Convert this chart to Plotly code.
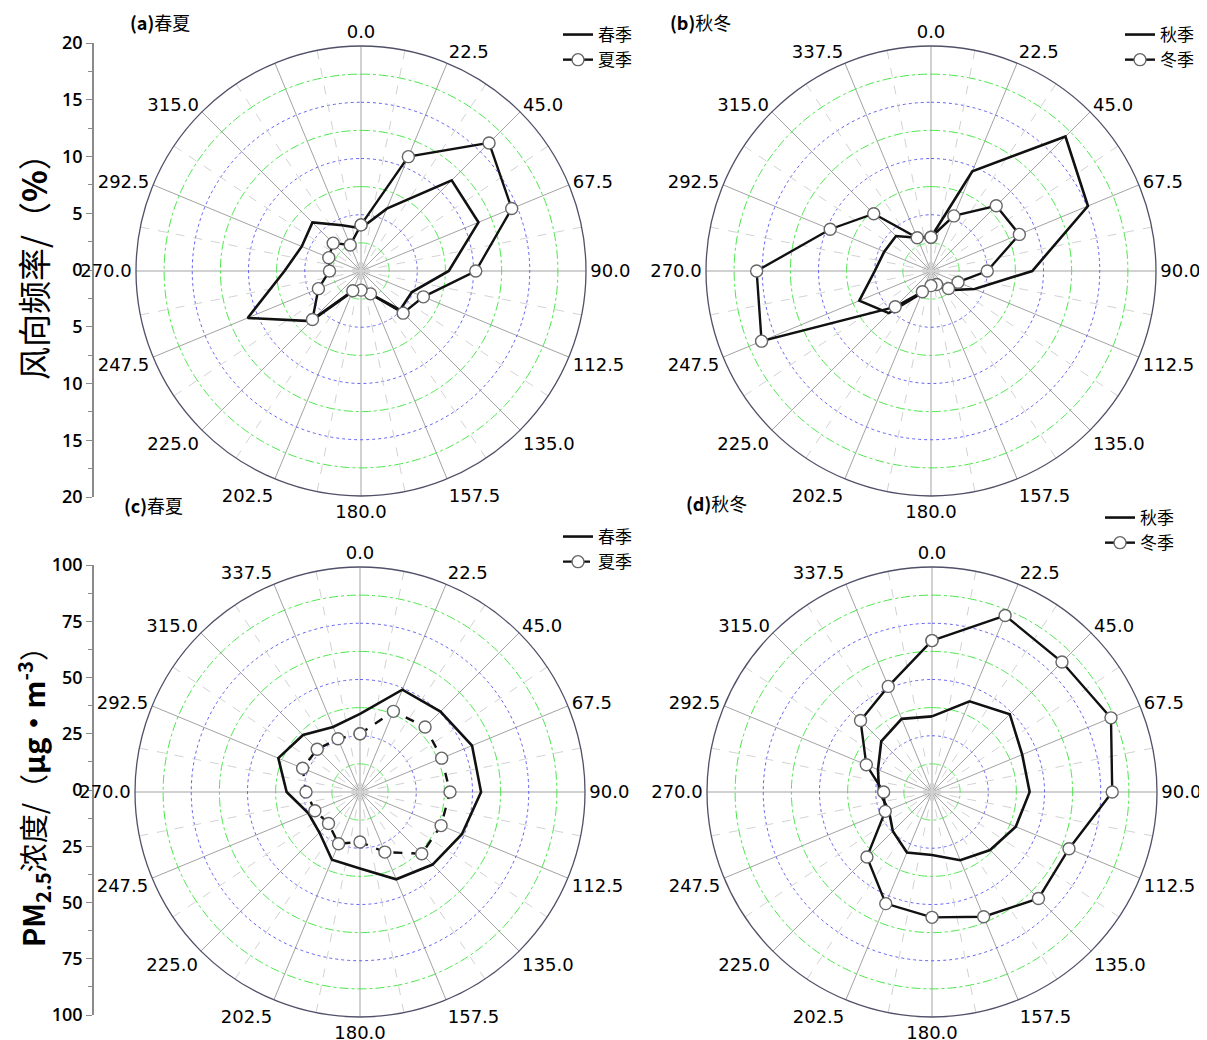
import numpy as np
import plotly.graph_objects as go

# ---------------- data ----------------
directions = [0.0, 22.5, 45.0, 67.5, 90.0, 112.5, 135.0, 157.5,
              180.0, 202.5, 225.0, 247.5, 270.0, 292.5, 315.0, 337.5]
direction_labels = ["0.0", "22.5", "45.0", "67.5", "90.0", "112.5", "135.0", "157.5",
                    "180.0", "202.5", "225.0", "247.5", "270.0", "292.5", "315.0", "337.5"]

# wind direction frequency (%)
wind_spring = [3.8, 6.0, 11.4, 11.3, 7.8, 4.9, 4.9, 2.2, 1.7, 2.0, 6.3, 10.9, 6.8, 5.7, 6.1, 4.4]
wind_summer = [4.1, 11.0, 16.1, 14.5, 10.2, 6.0, 5.3, 2.2, 1.7, 1.9, 6.1, 4.1, 2.8, 3.1, 3.5, 2.5]
wind_autumn = [3.0, 9.6, 16.9, 15.1, 9.0, 4.2, 2.4, 1.5, 1.3, 2.1, 5.3, 6.9, 5.0, 4.5, 4.4, 3.2]
wind_winter = [3.0, 5.3, 8.2, 8.5, 5.0, 2.6, 2.2, 1.3, 1.3, 2.0, 4.5, 16.3, 15.5, 9.7, 7.2, 3.2]

# PM2.5 concentration (ug/m3)
pm_spring = [34.7, 49.2, 50.6, 53.9, 53.8, 49.0, 45.6, 42.0, 34.0, 32.6, 25.5, 24.8, 32.6, 39.3, 35.8, 31.3]
pm_summer = [25.9, 38.8, 40.9, 39.3, 40.0, 39.0, 38.8, 28.9, 22.2, 24.9, 19.8, 21.7, 24.0, 27.6, 26.9, 25.6]
pm_autumn = [33.6, 43.6, 48.9, 43.4, 43.4, 40.3, 36.5, 32.8, 28.0, 29.1, 24.6, 20.8, 23.5, 26.0, 31.9, 35.2]
pm_winter = [67.3, 84.9, 81.7, 86.1, 80.1, 65.9, 66.9, 60.0, 55.7, 53.7, 40.9, 22.5, 21.5, 31.6, 44.9, 50.8]

wind_ticks = [-20, -15, -10, -5, 0, 5, 10, 15, 20]
pm_ticks = [-100, -75, -50, -25, 0, 25, 50, 75, 100]

# ---------------- layout helpers ----------------
OFF = 8                      # page body margin of the html page
W, H = 1207 - OFF, 1040 - OFF
R = 225


def px(x):
    return (x - OFF) / W


def py(y):
    return 1 - (y - OFF) / H


panels = [
    dict(sub="polar",  cx=361, cy=271, rmax=20,  major=[5, 10, 15],  minor=[2.5, 7.5, 12.5, 17.5],
         s1=("春季", wind_spring), s2=("夏季", wind_summer), legend="legend",  dash2="solid",
         hide=[337.5], title="<b>(a)</b>春夏", tx=128, ty=22, lx=558, ly=17),
    dict(sub="polar2", cx=931, cy=271, rmax=20,  major=[5, 10, 15],  minor=[2.5, 7.5, 12.5, 17.5],
         s1=("秋季", wind_autumn), s2=("冬季", wind_winter), legend="legend2", dash2="solid",
         hide=[], title="<b>(b)</b>秋冬", tx=668, ty=22, lx=1120, ly=17),
    dict(sub="polar3", cx=360, cy=792, rmax=100, major=[25, 50, 75], minor=[12.5, 37.5, 62.5, 87.5],
         s1=("春季", pm_spring), s2=("夏季", pm_summer), legend="legend3", dash2="dash",
         hide=[], title="<b>(c)</b>春夏", tx=122, ty=505, lx=558, ly=519),
    dict(sub="polar4", cx=932, cy=792, rmax=100, major=[25, 50, 75], minor=[12.5, 37.5, 62.5, 87.5],
         s1=("秋季", pm_autumn), s2=("冬季", pm_winter), legend="legend4", dash2="solid",
         hide=[], title="<b>(d)</b>秋冬", tx=684, ty=503, lx=1100, ly=500),
]

theta_circle = np.linspace(0, 360, 361)
fig = go.Figure()


def circles(levels):
    rr, tt = [], []
    for lv in levels:
        rr += [lv] * len(theta_circle) + [None]
        tt += list(theta_circle) + [None]
    return rr, tt


def closed(vals):
    return list(vals) + [vals[0]], list(directions) + [directions[0]]


layout_polars = {}
annotations = []
legends = {}

for p in panels:
    sub = p["sub"]
    # green dash-dot circles
    rr, tt = circles(p["minor"])
    fig.add_trace(go.Scatterpolar(r=rr, theta=tt, mode="lines", subplot=sub,
                                  line=dict(color="#4ae64a", width=1, dash="dashdot"),
                                  showlegend=False, hoverinfo="skip"))
    # blue dotted circles
    rr, tt = circles(p["major"])
    fig.add_trace(go.Scatterpolar(r=rr, theta=tt, mode="lines", subplot=sub,
                                  line=dict(color="#6464f0", width=1, dash="dot"),
                                  showlegend=False, hoverinfo="skip"))
    # minor dashed spokes
    rr, tt = [], []
    for d in directions:
        rr += [0, p["rmax"], None]
        tt += [d + 11.25, d + 11.25, None]
    fig.add_trace(go.Scatterpolar(r=rr, theta=tt, mode="lines", subplot=sub,
                                  line=dict(color="#d2d2d2", width=1, dash="dash"),
                                  showlegend=False, hoverinfo="skip"))
    # series 1 (line only)
    r1, t1 = closed(p["s1"][1])
    fig.add_trace(go.Scatterpolar(r=r1, theta=t1, mode="lines", subplot=sub,
                                  name=p["s1"][0], legend=p["legend"],
                                  line=dict(color="#111111", width=2.6)))
    # series 2 (line + open markers)
    r2, t2 = closed(p["s2"][1])
    fig.add_trace(go.Scatterpolar(r=r2, theta=t2, mode="lines+markers", subplot=sub,
                                  name=p["s2"][0], legend=p["legend"],
                                  line=dict(color="#111111", width=2.4, dash=p["dash2"]),
                                  marker=dict(symbol="circle", size=12, color="white",
                                              line=dict(color="#666666", width=1.4))))

    ticktext = [" " if d in p["hide"] else lab for d, lab in zip(directions, direction_labels)]
    layout_polars[sub] = dict(
        domain=dict(x=[px(p["cx"] - R), px(p["cx"] + R)],
                    y=[py(p["cy"] + R), py(p["cy"] - R)]),
        bgcolor="white",
        radialaxis=dict(range=[0, p["rmax"]], showgrid=False, showticklabels=False,
                        showline=False, ticks=""),
        angularaxis=dict(rotation=90, direction="clockwise", tickmode="array",
                         tickvals=directions, ticktext=ticktext,
                         showgrid=True, gridcolor="#a3a3a3", gridwidth=1,
                         showline=True, linecolor="#505068", linewidth=1.3,
                         ticks="", 
                         tickfont=dict(family="DejaVu Sans", size=18, color="black")),
    )
    legends[p["legend"]] = dict(x=px(p["lx"]), y=py(p["ly"]), xanchor="left", yanchor="top",
                                bgcolor="rgba(0,0,0,0)", tracegroupgap=0, itemwidth=30,
                                font=dict(family="Noto Sans CJK SC", size=17, color="black"))
    annotations.append(dict(text=p["title"], x=px(p["tx"]), y=py(p["ty"]),
                            xref="paper", yref="paper", xanchor="left", yanchor="middle",
                            showarrow=False,
                            font=dict(family="Noto Sans CJK SC", size=18, color="black")))

# left scale axes (cartesian)
fig.add_trace(go.Scatter(x=[None], y=[None], xaxis="x", yaxis="y", showlegend=False, hoverinfo="skip"))
fig.add_trace(go.Scatter(x=[None], y=[None], xaxis="x2", yaxis="y2", showlegend=False, hoverinfo="skip"))

axis_x = 94
axis_common = dict(showline=True, linecolor="#8a8a8a", linewidth=1.5, ticks="outside",
                   ticklen=6, tickcolor="#8a8a8a", tickwidth=1.2, showgrid=False, zeroline=False,
                   tickfont=dict(family="Open Sans", size=18, color="black", weight=600),
                   fixedrange=True, automargin=False)

fig.update_layout(
    xaxis=dict(domain=[px(axis_x), px(axis_x) + 0.005], visible=False, range=[0, 1], anchor="y"),
    yaxis=dict(domain=[py(497), py(43)], range=[-20, 20], anchor="x",
               tickmode="array", tickvals=wind_ticks, ticktext=[str(abs(v)) for v in wind_ticks],
               minor=dict(tick0=0, dtick=2.5, ticks="outside", ticklen=4, tickcolor="#8a8a8a"),
               **axis_common),
    xaxis2=dict(domain=[px(axis_x), px(axis_x) + 0.005], visible=False, range=[0, 1], anchor="y2"),
    yaxis2=dict(domain=[py(1015), py(565)], range=[-100, 100], anchor="x2",
                tickmode="array", tickvals=pm_ticks, ticktext=[str(abs(v)) for v in pm_ticks],
                minor=dict(tick0=0, dtick=12.5, ticks="outside", ticklen=4, tickcolor="#8a8a8a"),
                **axis_common),
)

annotations.append(dict(text="风向频率/（<b>%</b>）", textangle=-90, x=px(33), y=py(259),
                        xref="paper", yref="paper", xanchor="center", yanchor="middle",
                        showarrow=False,
                        font=dict(family="Noto Sans CJK SC", size=33, color="black")))
annotations.append(dict(text="<b>PM<sub>2.5</sub></b>浓度/（<b>μg·m<sup>-3</sup></b>）", textangle=-90,
                        x=px(33), y=py(790),
                        xref="paper", yref="paper", xanchor="center", yanchor="middle",
                        showarrow=False,
                        font=dict(family="Noto Sans CJK SC", size=29, color="black")))

fig.update_layout(
    width=W, height=H, autosize=False,
    margin=dict(l=0, r=0, t=0, b=0, pad=0, autoexpand=False),
    paper_bgcolor="white", plot_bgcolor="white",
    font=dict(family="DejaVu Sans", color="black"),
    annotations=annotations,
    **layout_polars,
    **legends,
)

fig.write_html("out.html")
